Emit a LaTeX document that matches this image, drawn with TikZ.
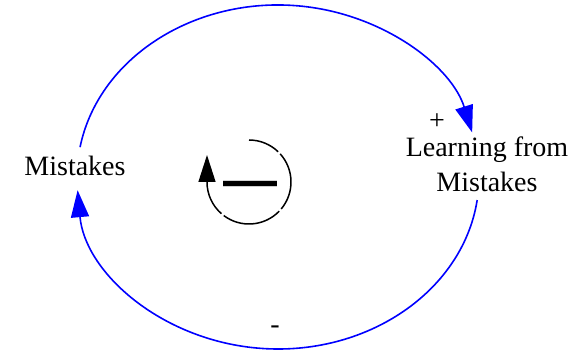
\documentclass[tikz,border=0pt]{standalone}
\usepackage{fontspec}
\setmainfont{Liberation Serif}
\newfontfamily\vserif{Liberation Serif}
\newfontfamily\dashfont{Liberation Sans}
\usetikzlibrary{arrows.meta}
\begin{document}
\begin{tikzpicture}[x=1pt,y=-1pt,
  var/.style={font=\vserif\fontsize{28}{35}\selectfont, align=center, inner sep=0pt},
  polarity/.style={font=\vserif\fontsize{28}{35}\selectfont, inner sep=0pt},
  lnk/.style={draw=blue, line width=1.6pt, -{Triangle[length=27pt,width=18pt,fill=blue]}},
  loopline/.style={line width=1.5pt}
]
\useasboundingbox (0,0) rectangle (586,358);
% variables
\node[var, anchor=base] (M) at (75,176) {Mistakes};
\node[var, anchor=base] (L1) at (487,157) {Learning from};
\node[var, anchor=base] (L) at (487,192) {Mistakes};
% polarity labels
\node[polarity, anchor=center] (plus) at (437,121.5) {+};
\node[polarity, anchor=north] (minus) at (275,326) {-};
% links (arcs of one ellipse)
\coordinate (c) at (278,177);
\draw[lnk] ([shift={(170:201pt and 172pt)}]c) arc[start angle=170, end angle=15, x radius=201pt, y radius=172pt];
\draw[lnk] ([shift={(-7.7:201pt and 172pt)}]c) arc[start angle=-7.7, end angle=-175.6, x radius=201pt, y radius=172pt];
% loop symbol
\coordinate (lc) at (249,182);
\draw[loopline] ([shift={(90:42pt)}]lc) arc[start angle=90, end angle=46, radius=42pt];
\draw[loopline] ([shift={(42:42pt)}]lc) arc[start angle=42, end angle=-40, radius=42pt];
\draw[loopline] ([shift={(-44:42pt)}]lc) arc[start angle=-44, end angle=-127, radius=42pt];
\draw[loopline, -{Triangle[length=27pt,width=17pt]}] ([shift={(-131:42pt)}]lc) arc[start angle=-131, end angle=-180, radius=42pt] -- ++(0,-27);
\node[font=\dashfont\bfseries\fontsize{54}{54}\selectfont, inner sep=0pt, anchor=north] (loopsign) at (250,181) {—};
\end{tikzpicture}
\end{document}
